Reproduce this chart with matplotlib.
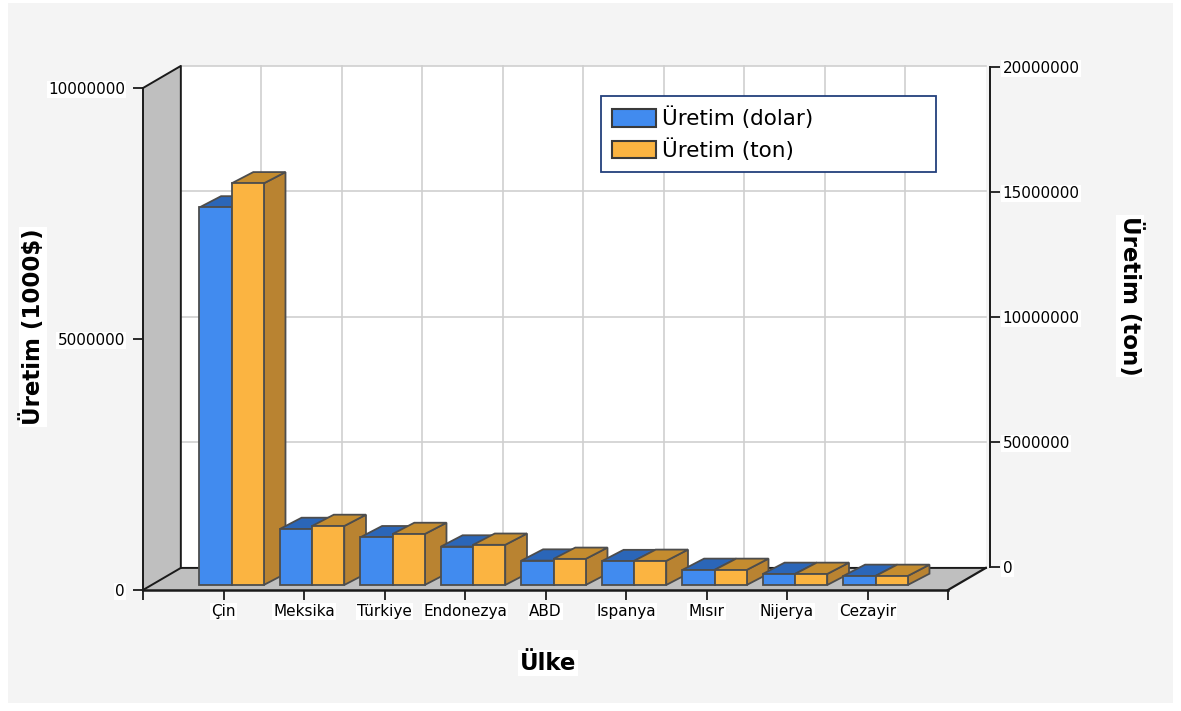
import matplotlib.pyplot as plt
from matplotlib.patches import Polygon, Patch, Rectangle

# data
ulkeler = ['Çin', 'Meksika', 'Türkiye', 'Endonezya', 'ABD', 'Ispanya', 'Mısır', 'Nijerya', 'Cezayir']
uretim_dolar = [7520000, 1115000, 950000, 765000, 485000, 475000, 300000, 220000, 180000]
uretim_ton = [16000000, 2350000, 2030000, 1600000, 1040000, 960000, 600000, 440000, 360000]

sol_ticks = [0, 5000000, 10000000]
sag_ticks = [0, 5000000, 10000000, 15000000, 20000000]

W, H = 1181, 711
fig = plt.figure(figsize=(W / 100, H / 100), dpi=100)
fig.patch.set_facecolor('white')
fig.patches.append(Rectangle((8 / W, 1 - 703 / H), 1165 / W, 700 / H, transform=fig.transFigure,
                             facecolor='#f4f4f4', edgecolor='none', zorder=-10))

# front plane axes (left axis, x axis)
ax = fig.add_axes([143 / W, 1 - 590 / H, 805 / W, 502 / H])
ax.set_facecolor('none')
ax.set_xlim(0, 10)
ax.set_ylim(0, 10000000)

# back plane axes (right axis)
ax2 = fig.add_axes([181 / W, 1 - 567 / H, 809 / W, 500 / H])
ax2.set_facecolor('none')
ax2.set_ylim(0, 20000000)
ax2.set_xlim(0, 1)

oran = ax.get_ylim()[1] / ax2.get_ylim()[1]

# depth offsets (data units)
DX, DY = 0.47, 440000
BX0, BY0 = 0.10, 100000
BDX, BDY = 0.27, 225000
BW = 0.40

duvar = '#bfbfbf'
kenar = '#1a1a1a'

# back wall
ax.add_patch(Polygon([(DX, DY), (10 + DX, DY), (10 + DX, 10000000 + DY), (DX, 10000000 + DY)],
                     closed=True, facecolor='white', edgecolor='none', zorder=0.3, clip_on=False))
# left wall
ax.add_patch(Polygon([(0, 0), (0, 10000000), (DX, 10000000 + DY), (DX, DY)],
                     closed=True, facecolor=duvar, edgecolor='none', zorder=0.4, clip_on=False))
# floor
ax.add_patch(Polygon([(0, 0), (10, 0), (10 + DX, DY), (DX, DY)],
                     closed=True, facecolor=duvar, edgecolor='none', zorder=0.4, clip_on=False))

# grid on back wall
for k in range(1, 10):
    ax.plot([k + DX, k + DX], [DY, 10000000 + DY], color='#cfcfcf', lw=1.2, zorder=0.35, clip_on=False)
for v in [2500000, 5000000, 7500000, 10000000]:
    ax.plot([DX, 10 + DX], [v + DY, v + DY], color='#cfcfcf', lw=1.2, zorder=0.35, clip_on=False)

# wall edges
ax.plot([0, DX, DX], [10000000, 10000000 + DY, DY], color=kenar, lw=1.4, zorder=0.5, clip_on=False)
ax.plot([0, DX, 10 + DX], [0, DY, DY], color=kenar, lw=1.4, zorder=0.5, clip_on=False)
ax.plot([10, 10 + DX], [0, DY], color=kenar, lw=1.6, zorder=0.5, clip_on=False)

renk = {
    'mavi': ('#418bef', '#2b66b8', '#2d6cc4'),
    'turuncu': ('#fbb441', '#c48c2f', '#b98331'),
}
ec = '#4d4d4d'


def kutu(x0, x1, h, renkler, z):
    on, ust, yan = renkler
    y0 = BY0
    y1 = BY0 + h
    ax.add_patch(Polygon([(x1, y0), (x1, y1), (x1 + BDX, y1 + BDY), (x1 + BDX, y0 + BDY)],
                         closed=True, facecolor=yan, edgecolor=ec, lw=1.3, zorder=z, clip_on=False))
    ax.add_patch(Polygon([(x0, y1), (x1, y1), (x1 + BDX, y1 + BDY), (x0 + BDX, y1 + BDY)],
                         closed=True, facecolor=ust, edgecolor=ec, lw=1.3, zorder=z, clip_on=False))
    ax.add_patch(Polygon([(x0, y0), (x1, y0), (x1, y1), (x0, y1)],
                         closed=True, facecolor=on, edgecolor=ec, lw=1.3, zorder=z + 0.01, clip_on=False))


for i in range(len(ulkeler)):
    p = i + 1
    z = 2 + i * 0.1
    kutu(p - BW + BX0, p + BX0, uretim_dolar[i], renk['mavi'], z)
    kutu(p + BX0, p + BW + BX0, uretim_ton[i] * oran, renk['turuncu'], z + 0.05)

# axes styling
for s in ['top', 'right']:
    ax.spines[s].set_visible(False)
ax.spines['left'].set_color(kenar)
ax.spines['left'].set_linewidth(1.4)
ax.spines['bottom'].set_color(kenar)
ax.spines['bottom'].set_linewidth(1.8)
ax.spines['left'].set_zorder(3)
ax.spines['bottom'].set_zorder(10)

ax.set_xticks(range(1, 10))
ax.set_xticklabels(ulkeler)
ax.set_xticks([0, 10], minor=True)
ax.set_yticks(sol_ticks)
ax.set_yticklabels([str(v) for v in sol_ticks])
ax.tick_params(axis='x', which='both', length=7, width=1.3, color=kenar, pad=3, labelsize=11)
ax.tick_params(axis='y', length=7, width=1.3, color=kenar, pad=6, labelsize=11)

for s in ['top', 'left', 'bottom']:
    ax2.spines[s].set_visible(False)
ax2.spines['right'].set_color(kenar)
ax2.spines['right'].set_linewidth(1.4)
ax2.set_xticks([])
ax2.yaxis.tick_right()
ax2.set_yticks(sag_ticks)
ax2.set_yticklabels([str(v) for v in sag_ticks])
ax2.tick_params(axis='y', length=7, width=1.3, color=kenar, pad=2, labelsize=11)

for t in ax.get_xticklabels() + ax.get_yticklabels() + ax2.get_yticklabels():
    t.set_bbox(dict(facecolor='white', edgecolor='none', pad=1))

# axis titles
kutu_bg = dict(facecolor='white', edgecolor='none', pad=1)
fig.text(33 / W, 1 - 327 / H, 'Üretim (1000$)', rotation=90, ha='center', va='center',
         fontsize=16.5, fontweight='bold', bbox=kutu_bg)
fig.text(1130 / W, 1 - 296 / H, 'Üretim (ton)', rotation=270, ha='center', va='center',
         fontsize=16.5, fontweight='bold', bbox=kutu_bg)
fig.text(548 / W, 1 - 663 / H, 'Ülke', ha='center', va='center',
         fontsize=16.5, fontweight='bold', bbox=kutu_bg)

# legend
handles = [Patch(facecolor='#418bef', edgecolor='#3a3a3a', lw=1.5, label='Üretim (dolar)'),
           Patch(facecolor='#fbb441', edgecolor='#3a3a3a', lw=1.5, label='Üretim (ton)')]
leg = fig.legend(handles=handles, loc='upper left',
                 bbox_to_anchor=(601 / W, 1 - 170 / H, 335 / W, 74 / H), mode='expand',
                 borderaxespad=0, fancybox=False, framealpha=1, fontsize=15.5,
                 handlelength=2.05, handleheight=0.85, handletextpad=0.3,
                 labelspacing=0.42, borderpad=0.5)
leg.get_frame().set_edgecolor('#23407c')
leg.get_frame().set_linewidth(1.3)

fig.savefig('out.png', dpi=100, facecolor=fig.get_facecolor())
